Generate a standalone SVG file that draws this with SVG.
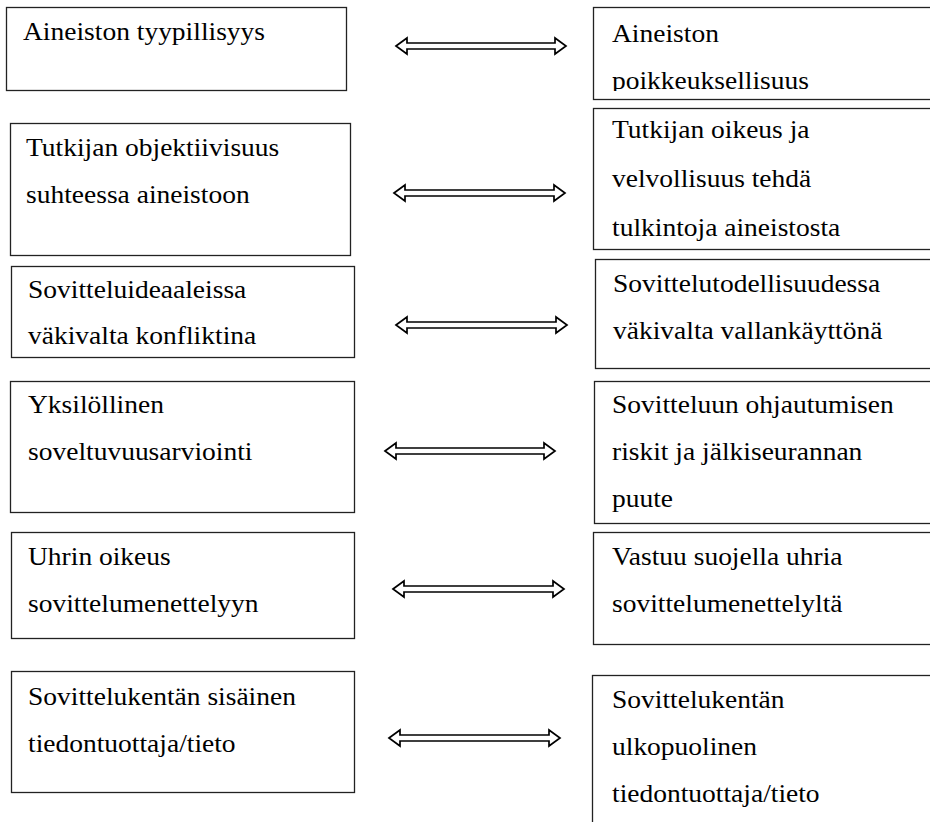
<svg xmlns="http://www.w3.org/2000/svg" width="930" height="822" viewBox="0 0 930 822">
<style>
.box{fill:#fff;stroke:#222;stroke-width:1.3}
.t{font-family:"Liberation Serif","Times New Roman",serif;font-size:25px;fill:#000}
.arr{fill:#fff;stroke:#000;stroke-width:1.7;stroke-linejoin:miter}
</style>
<defs>
<clipPath id="c1"><rect x="593" y="7" width="340" height="84"/></clipPath>
</defs>
<rect width="930" height="822" fill="#fff"/>

<g id="n-l1">
<rect class="box" x="6.5" y="7.5" width="340" height="83"/>
<text class="t" transform="translate(23,40) scale(1.1,1)">Aineiston tyypillisyys</text>
</g>
<g id="n-r1">
<rect class="box" x="593.5" y="7.5" width="360" height="92"/>
<g clip-path="url(#c1)">
<text class="t" transform="translate(612,42) scale(1.1,1)">Aineiston</text>
<text class="t" transform="translate(612,89) scale(1.1,1)">poikkeuksellisuus</text>
</g>
</g>

<g id="n-l2">
<rect class="box" x="10.5" y="123.5" width="340" height="132"/>
<text class="t" transform="translate(26,156) scale(1.1,1)">Tutkijan objektiivisuus</text>
<text class="t" transform="translate(26,203) scale(1.1,1)">suhteessa aineistoon</text>
</g>
<g id="n-r2">
<rect class="box" x="593.5" y="108.5" width="360" height="141"/>
<text class="t" transform="translate(612,138) scale(1.1,1)">Tutkijan oikeus ja</text>
<text class="t" transform="translate(612,187) scale(1.1,1)">velvollisuus tehdä</text>
<text class="t" transform="translate(612,236) scale(1.1,1)">tulkintoja aineistosta</text>
</g>

<g id="n-l3">
<rect class="box" x="11.5" y="266.5" width="343" height="91"/>
<text class="t" transform="translate(28,298) scale(1.1,1)">Sovitteluideaaleissa</text>
<text class="t" transform="translate(28,344) scale(1.1,1)">väkivalta konfliktina</text>
</g>
<g id="n-r3">
<rect class="box" x="595.5" y="259.5" width="360" height="109"/>
<text class="t" transform="translate(613,292) scale(1.1,1)">Sovittelutodellisuudessa</text>
<text class="t" transform="translate(613,339) scale(1.1,1)">väkivalta vallankäyttönä</text>
</g>

<g id="n-l4">
<rect class="box" x="10.5" y="381.5" width="344" height="131"/>
<text class="t" transform="translate(28,413) scale(1.1,1)">Yksilöllinen</text>
<text class="t" transform="translate(28,460) scale(1.1,1)">soveltuvuusarviointi</text>
</g>
<g id="n-r4">
<rect class="box" x="594.5" y="381.5" width="360" height="142"/>
<text class="t" transform="translate(612,413) scale(1.1,1)">Sovitteluun ohjautumisen</text>
<text class="t" transform="translate(612,460) scale(1.1,1)">riskit ja jälkiseurannan</text>
<text class="t" transform="translate(612,507) scale(1.1,1)">puute</text>
</g>

<g id="n-l5">
<rect class="box" x="11.5" y="532.5" width="343" height="106"/>
<text class="t" transform="translate(28,565) scale(1.1,1)">Uhrin oikeus</text>
<text class="t" transform="translate(28,612) scale(1.1,1)">sovittelumenettelyyn</text>
</g>
<g id="n-r5">
<rect class="box" x="593.5" y="532.5" width="360" height="112"/>
<text class="t" transform="translate(612,565) scale(1.1,1)">Vastuu suojella uhria</text>
<text class="t" transform="translate(612,612) scale(1.1,1)">sovittelumenettelyltä</text>
</g>

<g id="n-l6">
<rect class="box" x="11.5" y="671.5" width="343" height="121"/>
<text class="t" transform="translate(28,705) scale(1.1,1)">Sovittelukentän sisäinen</text>
<text class="t" transform="translate(28,752) scale(1.1,1)">tiedontuottaja/tieto</text>
</g>
<g id="n-r6">
<rect class="box" x="592.5" y="675.5" width="360" height="160"/>
<text class="t" transform="translate(612,708) scale(1.1,1)">Sovittelukentän</text>
<text class="t" transform="translate(612,755) scale(1.1,1)">ulkopuolinen</text>
<text class="t" transform="translate(612,802) scale(1.1,1)">tiedontuottaja/tieto</text>
</g>

<g id="connectors">
<path class="arr" d="M396,46 L407,38 L407,43 L555,43 L555,38 L566,46 L555,54 L555,49 L407,49 L407,54 Z"/>
<path class="arr" d="M394,193 L405,185 L405,190 L554,190 L554,185 L565,193 L554,201 L554,196 L405,196 L405,201 Z"/>
<path class="arr" d="M396,325 L407,317 L407,322 L556,322 L556,317 L567,325 L556,333 L556,328 L407,328 L407,333 Z"/>
<path class="arr" d="M385,451 L396,443 L396,448 L544,448 L544,443 L555,451 L544,459 L544,454 L396,454 L396,459 Z"/>
<path class="arr" d="M393,589 L404,581 L404,586 L553,586 L553,581 L564,589 L553,597 L553,592 L404,592 L404,597 Z"/>
<path class="arr" d="M389,738 L400,730 L400,735 L549,735 L549,730 L560,738 L549,746 L549,741 L400,741 L400,746 Z"/>
</g>
</svg>
